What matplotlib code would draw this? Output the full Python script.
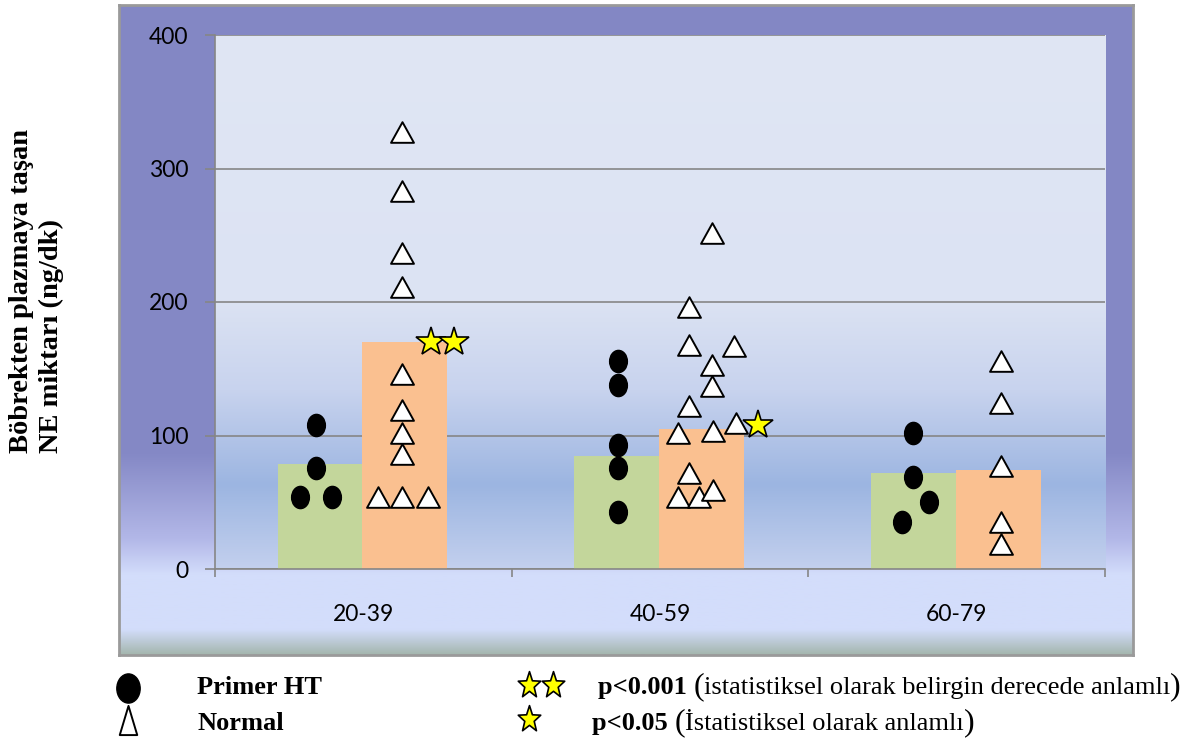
import numpy as np
import matplotlib
matplotlib.use('Agg')
import matplotlib.pyplot as plt
from matplotlib.path import Path
from matplotlib.transforms import Affine2D
from matplotlib.colors import to_rgb

# yaş grupları ve ortalama değerler (sütunlar)
gruplar = ['20-39', '40-59', '60-79']
primer_ort = [79, 85, 72]
normal_ort = [170, 105, 74]

# bireysel ölçümler, Primer HT
primer_deger = [[108, 76, 54, 54],
                [156, 138, 93, 76, 43],
                [102, 69, 50, 35]]
primer_kayma = [[-0.16, -0.16, -0.214, -0.107],
                [-0.142, -0.142, -0.142, -0.142, -0.142],
                [-0.146, -0.146, -0.092, -0.184]]

# bireysel ölçümler, Normal
normal_deger = [[327, 283, 237, 211, 146, 119, 102, 86, 54, 54, 54],
                [252, 196, 168, 167, 153, 137, 122, 102, 103, 109, 72, 54, 54, 59],
                [156, 124, 77, 35, 19]]
normal_kayma = [[0.129, 0.129, 0.129, 0.129, 0.129, 0.129, 0.129, 0.129, 0.05, 0.129, 0.219],
                [0.176, 0.099, 0.099, 0.251, 0.176, 0.176, 0.099, 0.059, 0.178, 0.255, 0.099, 0.059, 0.132, 0.178],
                [0.149, 0.149, 0.149, 0.149, 0.149]]

# anlamlılık yıldızları
yildiz_grup = [0, 0, 1]
yildiz_kayma = [0.228, 0.307, 0.332]
yildiz_deger = [170, 170, 108]

W, H = 1191, 740
fig = plt.figure(figsize=(W / 100, H / 100), dpi=100)


def renk_gecisi(duraklar, n=400):
    # duraklar: (konum 0..1, renk) listesi, yukarıdan aşağıya
    pos = np.array([d[0] for d in duraklar])
    cols = np.array([to_rgb(d[1]) for d in duraklar])
    t = np.linspace(0, 1, n)
    img = np.stack([np.interp(t, pos, cols[:, k]) for k in range(3)], axis=1)
    return img[:, None, :]


# dış çerçeve
cerceve = fig.add_axes([119 / W, 85 / H, 1014 / W, 650 / H], zorder=-1)
fy = lambda y: (y - 5) / 650
cerceve.imshow(renk_gecisi([(0, '#8387C4'), (fy(455), '#8589C6'), (fy(540), '#B3B8E8'),
                            (fy(575), '#D3DDFB'), (fy(630), '#D3DDFB'), (1, '#A4B6AE')]),
               extent=(0, 1, 0, 1), aspect='auto', interpolation='bilinear')
cerceve.set_xlim(0, 1)
cerceve.set_ylim(0, 1)
cerceve.set_xticks([])
cerceve.set_yticks([])
for s in cerceve.spines.values():
    s.set_color('#9A9A9A')
    s.set_linewidth(2)

# grafik alanı
ax = fig.add_axes([215 / W, 171 / H, 890 / W, 534 / H])
ax.set_xlim(-0.5, 2.5)
ax.set_ylim(0, 400)
py = lambda y: (y - 35) / 534
ax.imshow(renk_gecisi([(0, '#E0E6F4'), (py(300), '#DCE3F3'), (py(390), '#C8D3EE'),
                       (py(485), '#9CB5E1'), (1, '#C3D0EE')]),
          extent=(-0.5, 2.5, 0, 400), aspect='auto', interpolation='bilinear', zorder=0)

x = np.arange(len(gruplar))
bw = 0.286
ax.bar(x - 0.146, primer_ort, bw, color='#C3D69B', zorder=2)
ax.bar(x + 0.140, normal_ort, bw, color='#FAC090', zorder=2)

elips = Path.unit_circle().transformed(Affine2D().scale(0.8, 1.0))
ucgen = Path([(0, 0.9), (-1, -0.9), (1, -0.9), (0, 0.9)],
             [Path.MOVETO, Path.LINETO, Path.LINETO, Path.CLOSEPOLY])

for i in range(len(gruplar)):
    ax.plot(i + np.array(primer_kayma[i]), primer_deger[i], ls='none', marker=elips,
            ms=16, mfc='black', mec='black', zorder=4)
    ax.plot(i + np.array(normal_kayma[i]), normal_deger[i], ls='none', marker=ucgen,
            ms=16.5, mfc='white', mec='black', mew=1.4, zorder=4)

ax.plot(np.array(yildiz_grup) + np.array(yildiz_kayma), yildiz_deger, ls='none',
        marker='*', ms=22, mfc='#FFFF00', mec='black', mew=1.2, zorder=5)

gri = '#868686'
ax.set_yticks([0, 100, 200, 300, 400])
ax.yaxis.grid(True, color=gri, lw=1.2)
ax.set_axisbelow(True)
for s in ['top', 'right']:
    ax.spines[s].set_visible(False)
for s in ['left', 'bottom']:
    ax.spines[s].set_color(gri)
    ax.spines[s].set_linewidth(1.2)
ax.set_xticks(x)
ax.set_xticklabels(gruplar)
ax.set_xticks([-0.5, 0.5, 1.5, 2.5], minor=True)
ax.tick_params(axis='x', which='major', length=0, pad=25)
ax.tick_params(axis='x', which='minor', length=6, width=1.2, color=gri)
ax.tick_params(axis='y', length=7, width=1.2, color=gri, pad=12)
for lab in ax.get_xticklabels() + ax.get_yticklabels():
    lab.set_fontfamily('Lato')
    lab.set_fontsize(16.5)

# y ekseni başlığı (iki satır)
serif = 'Liberation Serif'
fig.text(21 / W, 1 - 453 / H, 'Böbrekten plazmaya taşan', rotation=90, rotation_mode='anchor',
         ha='left', va='center', family=serif, weight='bold', fontsize=20.5)
fig.text(51 / W, 1 - 453 / H, 'NE miktarı (ng/dk)', rotation=90, rotation_mode='anchor',
         ha='left', va='center', family=serif, weight='bold', fontsize=20.5)

# açıklama bölümü
lg = fig.add_axes([0, 0, 1, 1], facecolor='none')
lg.set_xlim(0, W)
lg.set_ylim(H, 0)
lg.axis('off')
elips_b = Path.unit_circle().transformed(Affine2D().scale(0.8, 1.0))
ucgen_b = Path([(0, 1), (-0.6, -1), (0.6, -1), (0, 1)],
               [Path.MOVETO, Path.LINETO, Path.LINETO, Path.CLOSEPOLY])
yildiz_b = Path.unit_regular_star(5, 0.42).transformed(Affine2D().scale(0.85, 1.0))
lg.plot([128], [688], marker=elips_b, ms=21, mfc='black', mec='black', ls='none')
lg.plot([128], [720], marker=ucgen_b, ms=21, mfc='white', mec='black', mew=1.4, ls='none')
lg.plot([529, 553], [685, 685], marker=yildiz_b, ms=20, mfc='#FFFF00', mec='black', mew=1.2, ls='none')
lg.plot([529], [719], marker=yildiz_b, ms=20, mfc='#FFFF00', mec='black', mew=1.2, ls='none')

lg.text(197, 694, 'Primer HT', family=serif, weight='bold', fontsize=19, va='baseline')
lg.text(197, 730, 'Normal', family=serif, weight='bold', fontsize=19, va='baseline')


def satir(x0, y0, kalin, aciklama):
    t = lg.text(x0, y0, kalin + ' ', family=serif, weight='bold', fontsize=19, va='baseline')
    t = lg.annotate('(', xy=(1, 0), xycoords=t, va='bottom', family=serif, fontsize=23,
                    xytext=(0, -1.5), textcoords='offset points')
    t = lg.annotate(aciklama, xy=(1, 0), xycoords=t, va='bottom', family=serif, fontsize=19,
                    xytext=(0, 1.5), textcoords='offset points')
    lg.annotate(')', xy=(1, 0), xycoords=t, va='bottom', family=serif, fontsize=23,
                xytext=(0, -1.5), textcoords='offset points')


satir(598, 694, 'p<0.001', 'istatistiksel olarak belirgin derecede anlamlı')
satir(592, 730, 'p<0.05', 'İstatistiksel olarak anlamlı')

fig.savefig('out.png', dpi=100)
